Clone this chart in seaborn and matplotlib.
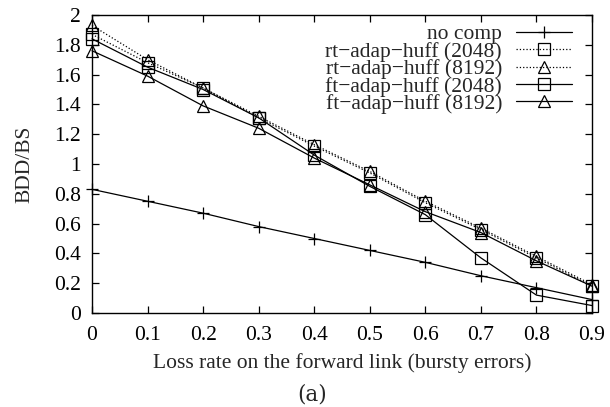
import numpy as np
import pandas as pd
import seaborn as sns
import matplotlib.pyplot as plt

loss_rate = [0, 0.1, 0.2, 0.3, 0.4, 0.5, 0.6, 0.7, 0.8, 0.9]
no_comp = [0.83, 0.75, 0.67, 0.58, 0.50, 0.42, 0.34, 0.25, 0.17, 0.09]
rt_2048 = [1.87, 1.68, 1.51, 1.31, 1.12, 0.94, 0.74, 0.56, 0.37, 0.18]
rt_8192 = [1.93, 1.70, 1.51, 1.32, 1.13, 0.95, 0.75, 0.57, 0.38, 0.19]
ft_2048 = [1.84, 1.65, 1.50, 1.31, 1.06, 0.85, 0.66, 0.37, 0.12, 0.05]
ft_8192 = [1.76, 1.59, 1.39, 1.24, 1.04, 0.86, 0.68, 0.54, 0.35, 0.18]

series = [
    ("no comp", no_comp, "-", "+"),
    ("rt\u2212adap\u2212huff (2048)", rt_2048, ":", "s"),
    ("rt\u2212adap\u2212huff (8192)", rt_8192, ":", "^"),
    ("ft\u2212adap\u2212huff (2048)", ft_2048, "-", "s"),
    ("ft\u2212adap\u2212huff (8192)", ft_8192, "-", "^"),
]

sns.set_style("ticks")
plt.rcParams['font.family'] = ['Liberation Serif', 'DejaVu Serif']

fig = plt.figure(figsize=(6.10, 4.07), dpi=100)
ax = fig.add_axes([92 / 610, 1 - 313 / 407, 500 / 610, 298 / 407])

for name, vals, ls, mk in series:
    df = pd.DataFrame({"x": loss_rate, "y": vals})
    sns.lineplot(data=df, x="x", y="y", ax=ax, color="black", linewidth=0.9,
                 linestyle=ls, marker=mk, markersize=8,
                 markerfacecolor="none", markeredgecolor="black",
                 markeredgewidth=0.9, label=name, clip_on=False, zorder=3)

ax.set_xlim(0, 0.9)
ax.set_ylim(0, 2)
ax.set_xticks(loss_rate)
ax.set_xticklabels(["0"] + [f"{v:g}" for v in loss_rate[1:]])
yt = np.round(np.arange(0, 2.01, 0.2), 1)
ax.set_yticks(yt)
ax.set_yticklabels([f"{v:g}" for v in yt])
ax.tick_params(direction="in", length=5, width=0.9, labelsize=15.5, top=True, right=True, colors="black")
ax.tick_params(axis="x", pad=9)
ax.tick_params(axis="y", pad=8)
for sp in ax.spines.values():
    sp.set_visible(True)
    sp.set_linewidth(1.0)
    sp.set_color("black")

ax.set_xlabel("Loss rate on the forward link (bursty errors)", fontsize=15.5, labelpad=6)
ax.set_ylabel("BDD/BS", fontsize=15.5, labelpad=14)

leg = ax.legend(loc="upper right", frameon=False, markerfirst=False, fontsize=15.5,
                handlelength=2.6, labelspacing=-0.12, borderaxespad=0.0,
                borderpad=0.0, handletextpad=0.65, bbox_to_anchor=(572 / 610, 1 - 24 / 407),
                bbox_transform=fig.transFigure)
for t in leg.get_texts():
    t.set_ha("right")
leg._legend_box.align = "right"

fig.text(312 / 610, 1 - 394 / 407, "(a)", ha="center", va="center",
         fontsize=15.5, family="DejaVu Serif")

fig.savefig("out.png", dpi=100)
